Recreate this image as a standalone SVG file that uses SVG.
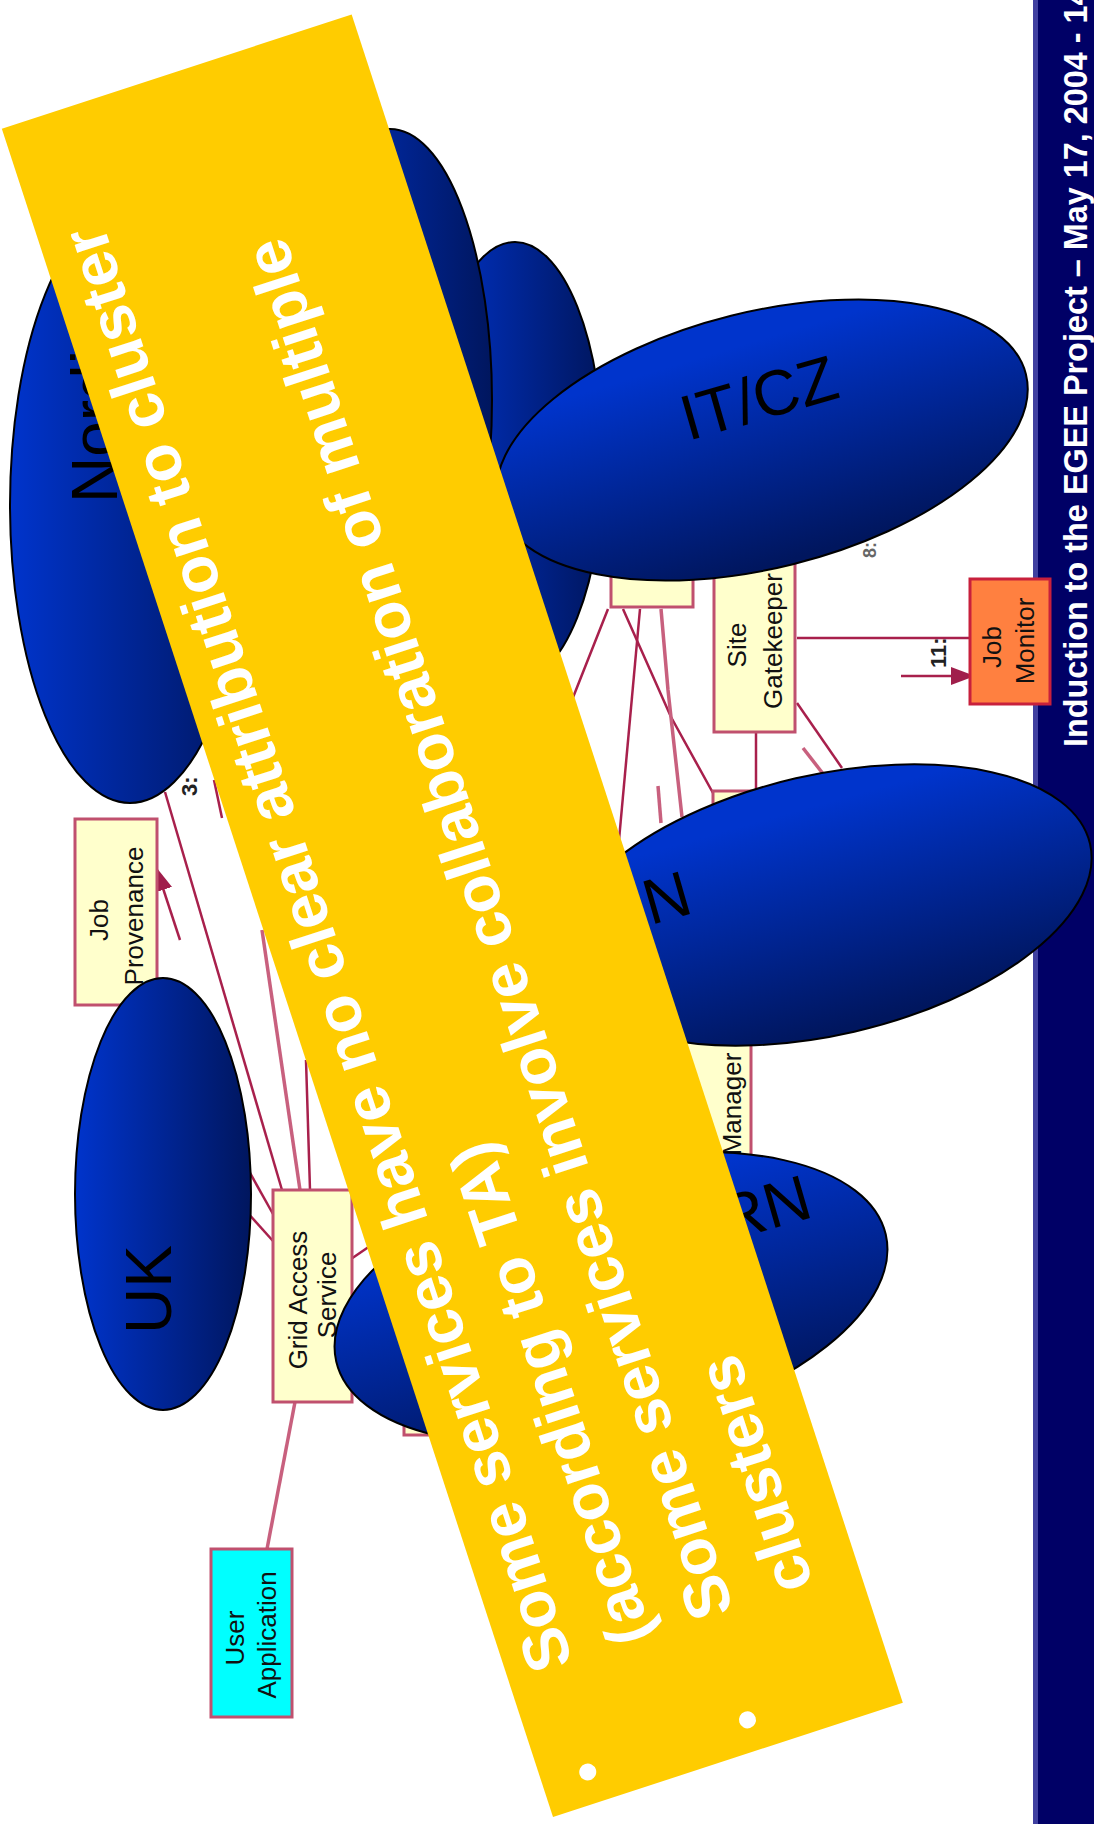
<svg xmlns="http://www.w3.org/2000/svg" width="1094" height="1824" viewBox="0 0 1094 1824">
<style>
.bx{stroke:#c0506e;stroke-width:3}
.yb{fill:#ffffcc}
.lbl{font-family:"Liberation Sans",Arial,sans-serif;font-size:26px;fill:#111;text-anchor:middle}
.num{font-family:"Liberation Sans",Arial,sans-serif;font-size:22px;fill:#222;font-weight:bold}
.ln{stroke:#a8204c;stroke-width:2.5;fill:none}
.lp{stroke:#c8607e;stroke-width:3.5;fill:none}
.ell{stroke:#000;stroke-width:2}
.et{font-family:"Liberation Sans",Arial,sans-serif;font-size:64px;fill:#000}
.bt{font-family:"Liberation Sans",Arial,sans-serif;font-weight:bold;font-size:64px;fill:#fff}
.ft{font-family:"Liberation Sans",Arial,sans-serif;font-weight:bold;font-size:32.4px;fill:#fff}
</style>
<defs>
<linearGradient id="gh" x1="0" y1="0" x2="1" y2="0"><stop offset="0" stop-color="#0034cc"/><stop offset="1" stop-color="#00165e"/></linearGradient>
<linearGradient id="gv" x1="0.2" y1="0" x2="0.3" y2="1"><stop offset="0.15" stop-color="#0034cc"/><stop offset="1" stop-color="#00165e"/></linearGradient>
<marker id="ah" markerUnits="userSpaceOnUse" markerWidth="26" markerHeight="20" refX="24" refY="9" orient="auto"><path d="M0,0 L24,9 L0,18 z" fill="#a01e4b"/></marker>
</defs>
<rect width="1094" height="1824" fill="#fff"/>
<g id="footer">
<rect x="1033" y="0" width="61" height="1824" fill="#000066"/>
<rect x="1033" y="0" width="5" height="1824" fill="#4040a0"/>
<text class="ft" transform="translate(1087,747) rotate(-90)">Induction to the EGEE Project – May 17, 2004 - 14</text>
</g>
<g id="connectors">
<line class="ln" x1="797" y1="638" x2="970" y2="638"/>
<line class="ln" x1="901" y1="676" x2="975" y2="676" marker-end="url(#ah)"/>
<polyline class="ln" points="608,609 572,700 560,730"/>
<polyline class="ln" points="623,609 671,717 713,793"/>
<line class="ln" x1="640" y1="609" x2="619" y2="840"/>
<line class="ln" x1="756" y1="732" x2="756" y2="791"/>
<line class="ln" x1="797" y1="703" x2="842" y2="768"/>
<line class="ln" x1="165" y1="792" x2="282" y2="1190"/>
<line class="ln" x1="310" y1="1190" x2="306" y2="1060"/>
<line class="ln" x1="273" y1="1214" x2="236" y2="1148"/>
<line class="ln" x1="273" y1="1241" x2="238" y2="1202"/>
<line class="ln" x1="351" y1="1259" x2="370" y2="1246"/>
<line class="ln" x1="180" y1="940" x2="156" y2="867" marker-end="url(#ah)"/>
<line class="ln" x1="214" y1="780" x2="222" y2="818"/>
<polyline class="lp" points="661,609 668,690 682,817"/>
<line class="lp" x1="658" y1="786" x2="661" y2="823"/>
<line class="lp" x1="803" y1="748" x2="824" y2="775"/>
<line class="lp" x1="300" y1="1190" x2="262" y2="930"/>
<line class="lp" x1="295" y1="1402" x2="267" y2="1549"/>
<text class="num" transform="translate(946,668) rotate(-90)">11:</text>
<text class="num" transform="translate(197,796) rotate(-90)">3:</text>
<text class="num" style="font-size:18px" transform="translate(148,930) rotate(-90)">2:</text>
<text class="num" style="font-size:18px;fill:#666" transform="translate(876,558) rotate(-90)">8:</text>
</g>
<g id="node-small-box"><rect class="bx yb" x="611" y="540" width="82" height="67"/></g>
<g id="node-site-gatekeeper">
<rect class="bx yb" x="714" y="540" width="81" height="192"/>
<text class="lbl" transform="translate(746,645) rotate(-90)">Site</text>
<text class="lbl" transform="translate(782,641) rotate(-90)">Gatekeeper</text>
</g>
<g id="node-below-gk"><rect class="bx yb" x="713" y="791" width="80" height="120"/></g>
<g id="node-manager">
<rect class="bx yb" x="640" y="1040" width="111" height="120"/>
<text class="lbl" transform="translate(741,1104) rotate(-90)">Manager</text>
</g>
<g id="node-under-rn"><rect class="bx yb" x="404" y="1320" width="100" height="115"/></g>
<g id="node-job-monitor">
<rect x="970" y="579" width="80" height="125" fill="#ff8040" stroke="#c8203c" stroke-width="3"/>
<text class="lbl" transform="translate(1001,647) rotate(-90)">Job</text>
<text class="lbl" transform="translate(1034,641) rotate(-90)">Monitor</text>
</g>
<g id="node-job-provenance">
<rect class="bx yb" x="75" y="819" width="82" height="186"/>
<text class="lbl" transform="translate(108,920) rotate(-90)">Job</text>
<text class="lbl" transform="translate(143,916) rotate(-90)">Provenance</text>
</g>
<g id="node-grid-access">
<rect class="bx yb" x="273" y="1190" width="79" height="212"/>
<text class="lbl" transform="translate(307,1300) rotate(-90)">Grid Access</text>
<text class="lbl" transform="translate(336,1295) rotate(-90)">Service</text>
</g>
<g id="node-user-app">
<rect x="211" y="1549" width="81" height="168" fill="#00ffff" stroke="#c0506e" stroke-width="3"/>
<text class="lbl" transform="translate(244,1638) rotate(-90)">User</text>
<text class="lbl" transform="translate(276,1635) rotate(-90)">Application</text>
</g>
<g id="cluster-nordic">
<ellipse class="ell" cx="130" cy="505" rx="120" ry="298" fill="url(#gh)"/>
<text class="et" transform="translate(117,503) rotate(-90)">Nordic</text>
</g>
<g id="cluster-b"><ellipse class="ell" cx="515" cy="462" rx="88" ry="220" fill="url(#gh)"/></g>
<g id="cluster-a"><ellipse class="ell" cx="390" cy="400" rx="102" ry="271" fill="url(#gh)"/></g>
<g id="cluster-itcz">
<ellipse class="ell" transform="translate(762,440) rotate(-14)" cx="0" cy="0" rx="272" ry="128" fill="url(#gv)"/>
<text class="et" transform="translate(688,441) rotate(-16)">IT/CZ</text>
</g>
<g id="cluster-rn1">
<ellipse class="ell" transform="translate(825,905) rotate(-13)" cx="0" cy="0" rx="272" ry="130" fill="url(#gv)"/>
<text class="et" transform="translate(606,938) rotate(-16)">RN</text>
</g>
<g id="cluster-rn2">
<ellipse class="ell" transform="translate(611,1298) rotate(-13)" cx="0" cy="0" rx="282" ry="135" fill="url(#gv)"/>
<text class="et" transform="translate(726,1242) rotate(-16)">RN</text>
</g>
<g id="cluster-uk">
<ellipse class="ell" cx="163" cy="1194" rx="88" ry="216" fill="url(#gh)"/>
<text class="et" transform="translate(171,1334) rotate(-90)">UK</text>
</g>
<g id="banner" transform="translate(553,1817) rotate(-108.08)">
<rect x="0" y="0" width="1776" height="368" fill="#ffcc00"/>
<circle cx="32" cy="47" r="8.5" fill="#fff"/>
<circle cx="32" cy="215" r="8.5" fill="#fff"/>
<text class="bt" x="140" y="67">Some services have no clear attribution to cluster</text>
<text class="bt" x="140" y="151">(according to TA)</text>
<text class="bt" x="140" y="236">Some services involve collaboration of multiple</text>
<text class="bt" x="140" y="320">clusters</text>
</g>
</svg>
